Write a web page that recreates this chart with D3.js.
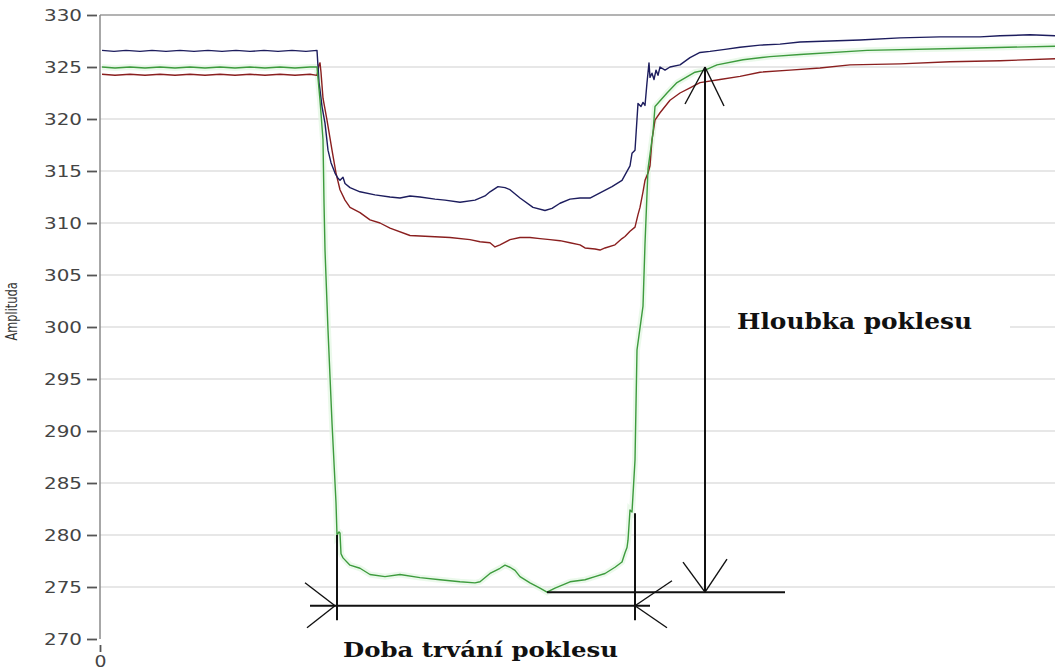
<!DOCTYPE html>
<html>
<head>
<meta charset="utf-8">
<script src="https://cdn.jsdelivr.net/npm/d3@7"></script>
<style>
  html, body { margin: 0; padding: 0; background: #fff; }
  svg { display: block; }
</style>
</head>
<body>
<svg id="chart" width="1059" height="671"></svg>
<script>
// Amplitude tick values on the vertical axis
const yTicks = [270, 275, 280, 285, 290, 295, 300, 305, 310, 315, 320, 325, 330];
const xTicks = [0];

// Measured amplitude of the three channels over time (samples)
const blue = [
  [2,326.6],[14,326.5],[26,326.6],[40,326.5],[52,326.6],[66,326.5],[80,326.6],[94,326.5],
  [108,326.6],[122,326.5],[136,326.6],[150,326.5],[164,326.6],[178,326.5],[192,326.6],[206,326.5],
  [217,326.6],[219,323.5],[220,322.8],[222,321.2],[225,319.6],[228,317],[231,315.8],[235,314.8],
  [238,314.3],[240,314.1],[243,314.4],[245,313.8],[250,313.4],[260,313],[275,312.7],[290,312.5],
  [300,312.4],[310,312.6],[320,312.5],[335,312.3],[345,312.2],[360,312],[375,312.2],[385,312.6],
  [390,313],[398,313.5],[405,313.4],[410,313.2],[420,312.4],[433,311.5],[445,311.2],[452,311.4],
  [460,311.9],[470,312.3],[480,312.4],[490,312.4],[500,312.9],[512,313.5],[522,314.1],[526,314.8],
  [530,315.5],[532,316.7],[535,317],[538,321.5],[541,321.2],[543,321.6],[545,321.3],[547,323.5],
  [549,325.4],[550,324],[552,324.4],[554,323.8],[556,324.7],[558,324.2],[560,325],[565,324.7],
  [570,325],[580,325.2],[590,325.9],[600,326.4],[610,326.5],[625,326.7],[640,326.9],[660,327.1],
  [680,327.2],[700,327.4],[730,327.5],[760,327.6],[800,327.8],[840,327.9],[880,327.9],[900,328],
  [930,328.1],[955,328]
];
const red = [
  [2,324.3],[15,324.2],[30,324.3],[45,324.2],[60,324.3],[75,324.2],[90,324.3],[105,324.2],
  [120,324.3],[135,324.2],[150,324.3],[165,324.2],[180,324.3],[195,324.2],[210,324.3],[217,324.2],
  [219,325.2],[220,325.4],[221,324.5],[223,322],[227,319.9],[232,317],[236,314.8],[240,313.2],
  [245,312.2],[250,311.5],[260,311],[270,310.3],[280,310],[290,309.5],[310,308.8],[330,308.7],
  [350,308.6],[370,308.4],[380,308.2],[390,308.1],[395,307.7],[400,307.9],[410,308.4],[420,308.6],
  [430,308.6],[440,308.5],[450,308.4],[460,308.3],[470,308.1],[480,307.9],[485,307.6],[495,307.5],
  [500,307.4],[505,307.6],[515,307.9],[522,308.5],[525,308.7],[530,309.2],[535,309.6],[538,310.8],
  [540,311.5],[543,313],[545,314.1],[548,314.8],[550,315.5],[552,318],[555,319.9],[560,320.6],
  [570,321.8],[580,322.5],[590,323],[600,323.5],[620,323.8],[640,324.1],[660,324.5],[690,324.7],
  [720,324.9],[750,325.2],[800,325.3],[850,325.5],[900,325.6],[955,325.8]
];
const green = [
  [2,325],[15,324.9],[30,325],[45,324.9],[60,325],[75,324.9],[90,325],[105,324.9],
  [120,325],[135,324.9],[150,325],[165,324.9],[180,325],[195,324.9],[210,325],[217,325],
  [220,321.8],[223,318],[224,312],[225,307.4],[228,299.7],[232,290.8],[236,283.1],[237,280],
  [239,280.3],[240,280.2],[241,278.2],[243,277.8],[250,277.1],[260,276.8],[270,276.2],[285,276],
  [300,276.2],[320,275.9],[340,275.7],[360,275.5],[375,275.4],[380,275.5],[390,276.3],[400,276.8],
  [405,277.1],[410,276.9],[415,276.6],[420,276],[430,275.4],[440,274.9],[447,274.5],[455,274.9],
  [470,275.5],[485,275.7],[495,276],[505,276.3],[515,276.9],[522,277.4],[525,278.3],[527,278.8],
  [528,279.5],[530,282.4],[532,282.2],[535,287.2],[537,297.8],[543,302],[545,308],[548,315.2],
  [553,318.7],[555,321.2],[567,322.5],[577,323.5],[595,324.5],[605,324.7],[617,325.2],[643,325.7],
  [670,326],[700,326.2],[767,326.6],[867,326.8],[955,327]
];

// Dip annotations: duration (two markers and a dimension line) and depth
const durationMarks = [[237, 280], [535, 282.1]];   // [time, top amplitude]
const durationLine = { from: 210, to: 550, level: 273.2, bottom: 271.8 };
const depth = { at: 605, top: 325, bottom: 274.5, baseFrom: 447, baseTo: 685 };
const labels = { depth: "Hloubka poklesu", duration: "Doba trvání poklesu", yAxis: "Amplituda" };

const svg = d3.select("#chart");
const x = d3.scaleLinear().domain([0, 955]).range([100, 1055]);
const y = d3.scaleLinear().domain([270, 330]).range([639, 15]);

// Grid lines
svg.append("g").selectAll("line").data(yTicks.filter(d => d !== 270 && d !== 330)).join("line")
  .attr("x1", x(0)).attr("x2", x(955))
  .attr("y1", d => y(d)).attr("y2", d => y(d))
  .attr("stroke", "#cfcfcf").attr("stroke-width", 1.2);

// Top frame
svg.append("line").attr("x1", x(0)).attr("x2", x(955)).attr("y1", y(330)).attr("y2", y(330))
  .attr("stroke", "#9a9a9a").attr("stroke-width", 1.3);

// Vertical axis line
svg.append("line").attr("x1", x(0)).attr("x2", x(0)).attr("y1", y(330)).attr("y2", y(270))
  .attr("stroke", "#8a8a8a").attr("stroke-width", 1.5);

// Left axis: ticks and labels
const yAxis = svg.append("g").attr("transform", "translate(97,0)")
  .call(d3.axisLeft(y).tickValues(yTicks).tickSize(10).tickSizeOuter(0).tickPadding(5));
yAxis.select(".domain").remove();
yAxis.selectAll(".tick line").attr("stroke", "#555").attr("stroke-width", 1.8);
yAxis.selectAll(".tick text")
  .attr("font-family", "DejaVu Sans, sans-serif").attr("font-size", 16)
  .attr("fill", "#444")
  .attr("textLength", 38).attr("lengthAdjust", "spacingAndGlyphs")
  .attr("dy", "0.36em");

// Bottom axis: only the origin tick
const xAxis = svg.append("g").attr("transform", "translate(0,645)")
  .call(d3.axisBottom(x).tickValues(xTicks).tickSize(7).tickPadding(4));
xAxis.select(".domain").remove();
xAxis.selectAll(".tick line").attr("stroke", "#555").attr("stroke-width", 1.8);
xAxis.selectAll(".tick text")
  .attr("font-family", "DejaVu Sans, sans-serif").attr("font-size", 16)
  .attr("fill", "#444").attr("textLength", 12).attr("lengthAdjust", "spacingAndGlyphs");

// Y axis title
svg.append("text")
  .attr("transform", `translate(17,${y(301.5)}) rotate(-90)`)
  .attr("text-anchor", "middle")
  .attr("font-family", "DejaVu Sans, sans-serif").attr("font-size", 15)
  .attr("fill", "#333").attr("textLength", 58).attr("lengthAdjust", "spacingAndGlyphs")
  .text(labels.yAxis);

// Signal lines
const line = d3.line().x(d => x(d[0])).y(d => y(d[1]));
svg.append("path").datum(green).attr("d", line).attr("fill", "none")
  .attr("stroke", "#e3f6e3").attr("stroke-width", 6).attr("opacity", 0.7);
[[red, "#8a1f1f"], [blue, "#1d1d5e"], [green, "#3d9b3d"]].forEach(([data, color]) => {
  svg.append("path").datum(data).attr("d", line).attr("fill", "none")
    .attr("stroke", color).attr("stroke-width", 1.4).attr("stroke-linejoin", "round");
});

// Annotations
const ann = svg.append("g").attr("stroke", "#111").attr("fill", "none");
durationMarks.forEach(([t, top]) => {
  ann.append("line").attr("x1", x(t)).attr("x2", x(t))
    .attr("y1", y(top)).attr("y2", y(durationLine.bottom)).attr("stroke-width", 2);
});
ann.append("line").attr("x1", x(durationLine.from)).attr("x2", x(durationLine.to))
  .attr("y1", y(durationLine.level)).attr("y2", y(durationLine.level)).attr("stroke-width", 2);
ann.append("line").attr("x1", x(depth.at)).attr("x2", x(depth.at))
  .attr("y1", y(depth.top)).attr("y2", y(depth.bottom)).attr("stroke-width", 2);
ann.append("line").attr("x1", x(depth.baseFrom)).attr("x2", x(depth.baseTo))
  .attr("y1", y(depth.bottom)).attr("y2", y(depth.bottom)).attr("stroke-width", 2);

// Arrowhead barbs drawn from each tip
function barbs(tx, ty, pts) {
  pts.forEach(([dx, dy]) => {
    ann.append("line").attr("x1", tx).attr("y1", ty).attr("x2", tx + dx).attr("y2", ty + dy)
      .attr("stroke-width", 1.4);
  });
}
barbs(x(durationMarks[0][0]) - 2, y(durationLine.level), [[-30, -23], [-28, 22]]);
barbs(x(durationMarks[1][0]), y(durationLine.level), [[37, -25], [32, 22]]);
barbs(x(depth.at), y(depth.top), [[-20, 37], [19, 39]]);
barbs(x(depth.at), y(depth.bottom), [[-22, -30], [22, -33]]);

// Labels
svg.append("rect").attr("x", x(630)).attr("y", y(302.5)).attr("width", 280).attr("height", 36)
  .attr("fill", "#fff");
svg.append("text").attr("x", x(637)).attr("y", y(299.8))
  .attr("font-family", "DejaVu Serif, serif").attr("font-weight", "bold").attr("font-size", 22)
  .attr("fill", "#111").attr("textLength", 235).attr("lengthAdjust", "spacingAndGlyphs")
  .text(labels.depth);
svg.append("text").attr("x", x(243)).attr("y", y(268.3))
  .attr("font-family", "DejaVu Serif, serif").attr("font-weight", "bold").attr("font-size", 21)
  .attr("fill", "#111").attr("textLength", 275).attr("lengthAdjust", "spacingAndGlyphs")
  .text(labels.duration);
</script>
</body>
</html>
